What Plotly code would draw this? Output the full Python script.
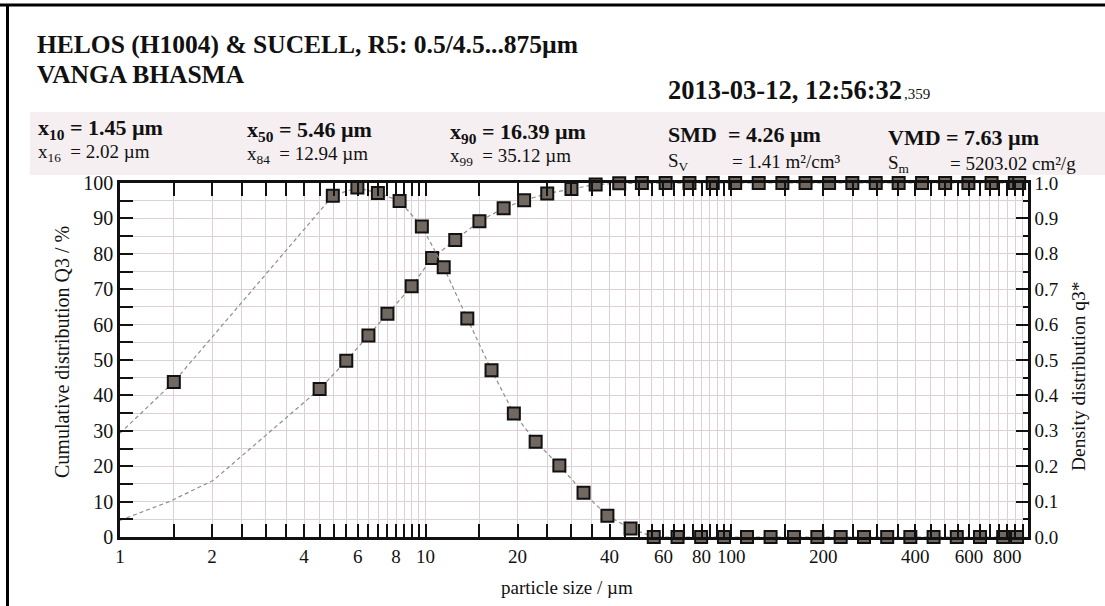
import plotly.graph_objects as go

# ---------------- data ----------------
# cumulative distribution Q3 (%) at class upper limits
q3cum_x = [4.5, 5.5, 6.5, 7.5, 9.0, 10.5, 12.5, 15, 18, 21, 25, 30, 36, 43, 51, 61, 73,
           87, 103, 123, 147, 175, 209, 249, 297, 353, 421, 501, 597, 711, 847, 875]
q3cum_y = [41.8, 49.8, 56.9, 63.1, 70.8, 78.8, 83.9, 89.2, 92.9, 95.1, 97.0, 98.3, 99.6,
           99.9, 100, 100, 100, 100, 100, 100, 100, 100, 100, 100, 100, 100, 100, 100,
           100, 100, 100, 100]
# extrapolated lower part of the cumulative curve (line only)
q3cum_ext_x = [1.0, 1.45, 2.02, 4.5]
q3cum_ext_y = [4.7, 10.0, 16.0, 41.8]

# density distribution q3* at class mid points
dens_x = [1.5, 4.97, 5.98, 6.98, 8.22, 9.72, 11.46, 13.69, 16.43, 19.44, 22.91, 27.39,
          32.86, 39.34, 46.83, 55.78, 66.73, 79.70, 94.67, 112.6, 134.5, 160.4, 191.3,
          228.1, 271.9, 323.8, 385.5, 459.3, 547.0, 651.5, 776.0, 861.2]
dens_y = [0.438, 0.964, 0.987, 0.972, 0.949, 0.877, 0.762, 0.617, 0.471, 0.349, 0.269,
          0.202, 0.125, 0.060, 0.024, 0.0, 0.0, 0.0, 0.0, 0.0, 0.0, 0.0, 0.0, 0.0, 0.0,
          0.0, 0.0, 0.0, 0.0, 0.0, 0.0, 0.0]
dens_start_x = [1.0]
dens_start_y = [0.293]

x_major = [1, 2, 3, 4, 5, 6, 7, 8, 9, 10, 20, 30, 40, 50, 60, 70, 80, 90,
           100, 200, 300, 400, 500, 600, 700, 800, 900]
x_labels = {1: "1", 2: "2", 4: "4", 6: "6", 8: "8", 10: "10", 20: "20", 40: "40",
            60: "60", 80: "80", 100: "100", 200: "200", 400: "400", 600: "600", 800: "800"}
x_minor = [1.5, 2.5, 3.5, 4.5, 5.5, 6.5, 7.5, 8.5, 9.5, 15, 25, 35, 45, 55, 65, 75, 85, 95,
           150, 250, 350, 450, 550, 650, 750, 850]

title1 = "HELOS (H1004) & SUCELL, R5: 0.5/4.5...875µm"
title2 = "VANGA BHASMA"
stamp = "2013-03-12, 12:56:32"
stamp_ms = ",359"
row1 = ["x<sub>10</sub>&nbsp;= 1.45 µm", "x<sub>50</sub>&nbsp;= 5.46 µm",
        "x<sub>90</sub>&nbsp;= 16.39 µm", "SMD&nbsp;&nbsp;= 4.26 µm", "VMD&nbsp;= 7.63 µm"]
row2 = ["x<sub>16</sub>&nbsp;&nbsp;= 2.02 µm", "x<sub>84</sub>&nbsp;&nbsp;= 12.94 µm",
        "x<sub>99</sub>&nbsp;&nbsp;= 35.12 µm"]
row2_names = ["S<sub>V</sub>", "S<sub>m</sub>"]
row2_vals = ["= 1.41 m²/cm³", "= 5203.02 cm²/g"]

# ---------------- figure ----------------
W, H = 1105, 606
L, R, T, B = 120, 1028, 183, 537
FONT = "Liberation Serif, Times New Roman, serif"


def px(x):
    return (x - L) / (R - L)


def py(y):
    return (B - y) / (B - T)


line_style = dict(color="#8f8f8f", width=1.2, dash="4px,3px")
marker_style = dict(symbol="square", size=12, color="#716862",
                    line=dict(color="#111111", width=2))

fig = go.Figure()
fig.add_trace(go.Scatter(x=q3cum_ext_x + q3cum_x[1:], y=q3cum_ext_y + q3cum_y[1:],
                         mode="lines", line=line_style, hoverinfo="skip", showlegend=False))
fig.add_trace(go.Scatter(x=dens_start_x + dens_x, y=dens_start_y + dens_y, yaxis="y2",
                         mode="lines", line=line_style, hoverinfo="skip", showlegend=False))
fig.add_trace(go.Scatter(x=q3cum_x, y=q3cum_y, mode="markers", marker=marker_style,
                         cliponaxis=False, showlegend=False, name="Q3"))
fig.add_trace(go.Scatter(x=dens_x, y=dens_y, yaxis="y2", mode="markers", marker=marker_style,
                         cliponaxis=False, showlegend=False, name="q3*"))

grid_col = "#ddd0d6"
fig.update_layout(
    width=W, height=H,
    margin=dict(l=L, r=W - R, t=T, b=H - B),
    paper_bgcolor="white", plot_bgcolor="white",
    font=dict(family=FONT, color="#111111", size=19),
    xaxis=dict(type="log", range=[0, 2.971],
               tickmode="array", tickvals=x_major,
               ticktext=[x_labels.get(v, "") for v in x_major],
               ticks="inside", ticklen=13, tickwidth=2, tickcolor="#111",
               showline=True, linewidth=2.5, linecolor="#111", mirror="allticks",
               showgrid=True, gridcolor=grid_col, gridwidth=1,
               minor=dict(tickmode="array", tickvals=x_minor, ticks="inside", ticklen=7,
                          tickwidth=1.5, tickcolor="#111", showgrid=True,
                          gridcolor=grid_col, gridwidth=1),
               tickfont=dict(size=19), zeroline=False),
    yaxis=dict(range=[0, 100], dtick=10, tick0=0,
               ticks="inside", ticklen=13, tickwidth=2, tickcolor="#111",
               showline=True, linewidth=2.5, linecolor="#111", mirror=True,
               showgrid=True, gridcolor=grid_col, gridwidth=1,
               minor=dict(dtick=5, ticks="inside", ticklen=13, tickwidth=2,
                          tickcolor="#111", showgrid=True, gridcolor=grid_col),
               tickfont=dict(size=20), zeroline=False),
    yaxis2=dict(range=[0, 1], dtick=0.1, tick0=0, tickformat=".1f",
                overlaying="y", side="right",
                ticks="inside", ticklen=12, tickwidth=2, tickcolor="#111",
                showline=True, linewidth=2.5, linecolor="#111",
                showgrid=False,
                minor=dict(dtick=0.05, ticks="inside", ticklen=5, tickwidth=1.5,
                           tickcolor="#111"),
                tickfont=dict(size=19), zeroline=False),
)

ann = []


def add_text(text, x, y, size, bold=False, xanchor="left", angle=0):
    t = "<b>%s</b>" % text if bold else text
    ann.append(dict(text=t, x=px(x), y=py(y), xref="paper", yref="paper",
                    xanchor=xanchor, yanchor="middle", showarrow=False,
                    textangle=angle, font=dict(family=FONT, size=size, color="#111")))


add_text(title1, 35, 45, 25.5, bold=True)
add_text(title2, 35, 74, 25.5, bold=True)
add_text(stamp, 666, 90, 26.5, bold=True)
add_text(stamp_ms, 902, 94, 15)

cols = [36, 245, 448, 666, 886]
row1_y = [129, 131, 133, 135, 137]
row2_y = [153, 155, 157, 161, 163]
for c, t, yy in zip(cols, row1, row1_y):
    add_text(t, c, yy, 22, bold=True)
for c, t, yy in zip(cols[:3], row2, row2_y):
    add_text(t, c, yy, 19)
add_text(row2_names[0], 666, row2_y[3] + 1, 19)
add_text(row2_vals[0], 730, row2_y[3], 19)
add_text(row2_names[1], 886, row2_y[4] + 1, 19)
add_text(row2_vals[1], 948, row2_y[4], 19)

add_text("particle size / µm", 567, 587, 19, xanchor="center")
add_text("Cumulative distribution Q3 / %", 62, 352, 20, xanchor="center", angle=-90)
add_text("Density distribution q3*", 1078, 376, 19.5, xanchor="center", angle=-90)

fig.update_layout(annotations=ann)

shapes = [
    dict(type="rect", xref="paper", yref="paper", x0=px(30), x1=px(1105), y0=py(175),
         y1=py(112), fillcolor="#f5eff2", line=dict(width=0), layer="below"),
    dict(type="line", xref="paper", yref="paper", x0=px(0), x1=px(1105), y0=py(5),
         y1=py(5), line=dict(color="#000", width=3)),
    dict(type="line", xref="paper", yref="paper", x0=px(7.5), x1=px(7.5), y0=py(5),
         y1=py(606), line=dict(color="#000", width=3)),
]
fig.update_layout(shapes=shapes)

fig.write_html("out.html")
